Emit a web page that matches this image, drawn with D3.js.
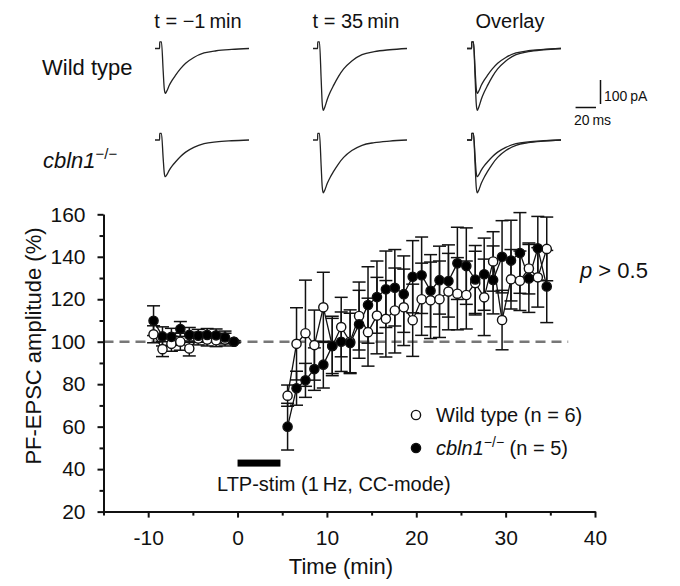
<!DOCTYPE html>
<head>
<meta charset="utf-8">
<style>
    body { margin: 0; background: #fff; }
    svg text { font-family: "Liberation Sans", Arial, sans-serif; fill: #111; }
</style>
<script src="https://d3js.org/d3.v7.min.js"></script>
</head>
<body>
<script>
// time of each averaged point (min), baseline then after LTP-stim
var times = [-9.4, -8.4, -7.4, -6.4, -5.4, -4.4, -3.4, -2.4, -1.4, -0.4,
    5.6, 6.6, 7.6, 8.6, 9.6, 10.6, 11.6, 12.6, 13.6, 14.6,
    15.6, 16.6, 17.6, 18.6, 19.6, 20.6, 21.6, 22.6, 23.6, 24.6,
    25.6, 26.6, 27.6, 28.6, 29.6, 30.6, 31.6, 32.6, 33.6, 34.6];

// wild type (n = 6)
var wtMean = [103.5, 96.5, 99, 100, 96.8, 101.5, 101, 100.7, 101, 100,
    74.6, 99, 104, 98.4, 116.2, 98, 106.9, 100, 112.1, 104.5,
    112.3, 110.8, 114.7, 116.2, 110.1, 120, 119.5, 120, 123.6, 122.6,
    122, 127.6, 120.9, 137.8, 110.2, 129.4, 128.7, 134.5, 130.3, 143.7];
var wtErr = [4, 3.5, 3.5, 4, 3.5, 3, 3, 3, 3, 0.5,
    5, 17, 25, 16.5, 16.5, 14, 14, 15, 16, 16,
    18, 18, 20, 18, 17, 17, 18, 18, 18, 17,
    16, 15, 18, 14, 14, 14, 14, 12, 14, 15];

// cbln1-/- (n = 5)
var koMean = [109.9, 102.5, 102.3, 106, 103.2, 102.8, 103.2, 103, 102, 100,
    60, 78.1, 81.8, 87.1, 89.2, 98, 100, 99.4, 108.2, 117.3,
    121, 124.7, 125.4, 122.4, 130.6, 131.3, 124, 129, 128.6, 136.9,
    135.6, 129.3, 131.8, 129.1, 140, 138.2, 141.8, 129.8, 144, 126];
var koErr = [7, 4.5, 4, 3.5, 3.5, 3, 3, 3, 3, 0.5,
    11, 8, 8, 10, 11, 13, 14, 14, 16, 18,
    17, 18, 18, 18, 17, 18, 17, 16, 17, 17,
    18, 16, 17, 16, 17, 19, 19, 16, 15, 17];

var xTicks = [-10, 0, 10, 20, 30, 40];
var xMinor = [-15, -5, 5, 15, 25, 35];
var yTicks = [20, 40, 60, 80, 100, 120, 140, 160];
var yMinor = [30, 50, 70, 90, 110, 130, 150];
var stim = [0, 4.8];

// example EPSC traces: sample times (ms), stimulus artifact (pA), normalised EPSC shape
var traceMs = [0, 4.5, 4.6, 6.3, 8, 9, 10, 11.5, 14, 17, 20, 25, 30, 38, 48, 60, 75, 92];
var traceArtifact = [0, 0, 28, 28, 0, 0, 0, 0, 0, 0, 0, 0, 0, 0, 0, 0, 0, 0];
var traceShape = [0, 0, 0, 0, 0.5, 0.88, 1, 0.95, 0.82, 0.7, 0.6, 0.45, 0.33, 0.2, 0.1, 0.05, 0.02, 0];
var rowNames = ["Wild type", "cbln1"];
var colNames = ["t = \u22121\u2009min", "t = 35\u2009min", "Overlay"];
var peakAmp = [[187, 258], [153, 220]];   // pA, before / after

var svg = d3.select("body").append("svg")
    .attr("width", 680)
    .attr("height", 586);

// ---------- traces ----------
var colX = [155, 313, 467];
var rowY = [48.5, 140];
var tx = d3.scaleLinear().domain([0, 92]).range([0, 94]);
var ty = d3.scaleLinear().domain([-100, 0]).range([24, 0]);
var traceLine = d3.line()
    .x(function(d) { return tx(d[0]); })
    .y(function(d) { return ty(d[1]); })
    .curve(d3.curveMonotoneX);

function traceData(amp) {
    return traceMs.map(function(t, i) { return [t, traceArtifact[i] - amp * traceShape[i]]; });
}

colNames.forEach(function(c, j) {
    svg.append("text")
        .attr("x", colX[j] + 43)
        .attr("y", 28)
        .attr("text-anchor", "middle")
        .attr("font-size", 20)
        .text(c);
});

rowNames.forEach(function(r, i) {
    var amps = [[peakAmp[i][0]], [peakAmp[i][1]], peakAmp[i]];
    amps.forEach(function(a, j) {
        var g = svg.append("g").attr("transform", "translate(" + colX[j] + "," + rowY[i] + ")");
        a.forEach(function(amp) {
            g.append("path")
                .attr("d", traceLine(traceData(amp)))
                .attr("fill", "none")
                .attr("stroke", "#222")
                .attr("stroke-width", 1.3);
        });
    });
});

svg.append("text").attr("x", 42).attr("y", 75).attr("font-size", 22).text("Wild type");
var koLabel = svg.append("text").attr("x", 43).attr("y", 168).attr("font-size", 22);
koLabel.append("tspan").attr("font-style", "italic").text("cbln1");
koLabel.append("tspan").attr("font-size", 15).attr("dy", -9).text("\u2212/\u2212");

// scale bar
var sbX = 596, sbY = 104;
svg.append("path")
    .attr("d", "M" + (sbX + 4.5) + "," + (sbY - ty(-100)) + "V" + sbY)
    .attr("stroke", "#111").attr("stroke-width", 1.5).attr("fill", "none");
svg.append("path")
    .attr("d", "M" + (sbX - tx(20)) + "," + (sbY + 3.5) + "H" + sbX)
    .attr("stroke", "#111").attr("stroke-width", 1.5).attr("fill", "none");
svg.append("text").attr("x", 604).attr("y", 101).attr("font-size", 14).text("100\u2009pA");
svg.append("text").attr("x", 574).attr("y", 125).attr("font-size", 14).text("20\u2009ms");

// ---------- time course ----------
var x = d3.scaleLinear().domain([-15, 40]).range([103.5, 595]);
var y = d3.scaleLinear().domain([20, 160]).range([511.6, 214.3]);

// dashed 100 % line
svg.append("line")
    .attr("x1", x(-15)).attr("x2", x(37))
    .attr("y1", y(100)).attr("y2", y(100))
    .attr("stroke", "#777")
    .attr("stroke-width", 2.5)
    .attr("stroke-dasharray", "10,6");

function styleAxis(g) {
    g.attr("font-size", 21).attr("font-family", "'Liberation Sans', Arial, sans-serif");
    g.selectAll("path, line").attr("stroke", "#111").attr("stroke-width", 2);
    g.selectAll("text").attr("fill", "#111");
}

svg.append("g")
    .attr("transform", "translate(0," + y(20) + ")")
    .call(d3.axisBottom(x).tickValues(xMinor).tickSize(4).tickFormat("").tickSizeOuter(0))
    .call(styleAxis);
svg.append("g")
    .attr("transform", "translate(0," + y(20) + ")")
    .call(d3.axisBottom(x).tickValues(xTicks).tickSize(6).tickPadding(12).tickSizeOuter(0)
        .tickFormat(function(d) { return String(d); }))
    .call(styleAxis);
svg.append("g")
    .attr("transform", "translate(" + x(-15) + ",0)")
    .call(d3.axisLeft(y).tickValues(yMinor).tickSize(4).tickFormat("").tickSizeOuter(0))
    .call(styleAxis);
svg.append("g")
    .attr("transform", "translate(" + x(-15) + ",0)")
    .call(d3.axisLeft(y).tickValues(yTicks).tickSize(6).tickPadding(12).tickSizeOuter(0))
    .call(styleAxis);

svg.append("text")
    .attr("transform", "translate(41," + 346 + ") rotate(-90)")
    .attr("text-anchor", "middle")
    .attr("font-size", 22)
    .text("PF-EPSC amplitude (%)");
svg.append("text")
    .attr("x", 341).attr("y", 574)
    .attr("text-anchor", "middle")
    .attr("font-size", 22)
    .text("Time (min)");

// LTP stimulation bar
svg.append("rect")
    .attr("x", x(stim[0]))
    .attr("width", x(stim[1]) - x(stim[0]))
    .attr("y", y(44.5))
    .attr("height", y(41.2) - y(44.5))
    .attr("fill", "#000");
svg.append("text").attr("x", 217).attr("y", 491).attr("font-size", 20)
    .text("LTP-stim (1\u2009Hz, CC-mode)");

var series = [
    {mean: wtMean, err: wtErr, fill: "#fff"},
    {mean: koMean, err: koErr, fill: "#000"}
];

function pts(s) {
    return times.map(function(t, i) { return {t: t, m: s.mean[i], e: s.err[i]}; });
}

// error bars
series.slice().reverse().forEach(function(s) {
    var g = svg.append("g").attr("stroke", "#111").attr("stroke-width", 1.5);
    pts(s).forEach(function(d) {
        var cx = x(d.t);
        g.append("line").attr("x1", cx).attr("x2", cx).attr("y1", y(d.m - d.e)).attr("y2", y(d.m + d.e));
        [d.m - d.e, d.m + d.e].forEach(function(v) {
            g.append("line").attr("x1", cx - 6.5).attr("x2", cx + 6.5).attr("y1", y(v)).attr("y2", y(v));
        });
    });
});

// connecting lines, baseline and post-stim separately
var line = d3.line().x(function(d) { return x(d.t); }).y(function(d) { return y(d.m); });
series.forEach(function(s) {
    var p = pts(s);
    [p.filter(function(d) { return d.t < 0; }), p.filter(function(d) { return d.t > 0; })].forEach(function(seg) {
        svg.append("path")
            .attr("d", line(seg))
            .attr("fill", "none")
            .attr("stroke", "#111")
            .attr("stroke-width", 1.3);
    });
});

series.forEach(function(s) {
    svg.append("g").selectAll("circle")
        .data(pts(s))
        .enter().append("circle")
        .attr("cx", function(d) { return x(d.t); })
        .attr("cy", function(d) { return y(d.m); })
        .attr("r", 4.6)
        .attr("fill", s.fill)
        .attr("stroke", "#111")
        .attr("stroke-width", 1.4);
});

// legend
svg.append("circle").attr("cx", 416).attr("cy", 415).attr("r", 4.6)
    .attr("fill", "#fff").attr("stroke", "#111").attr("stroke-width", 1.4);
svg.append("circle").attr("cx", 416).attr("cy", 448).attr("r", 4.6)
    .attr("fill", "#000").attr("stroke", "#111").attr("stroke-width", 1.4);
svg.append("text").attr("x", 436).attr("y", 422).attr("font-size", 20).text("Wild type (n = 6)");
var leg2 = svg.append("text").attr("x", 436).attr("y", 455).attr("font-size", 20);
leg2.append("tspan").attr("font-style", "italic").text("cbln1");
leg2.append("tspan").attr("font-size", 14).attr("dy", -8).text("\u2212/\u2212");
leg2.append("tspan").attr("dy", 8).text(" (n = 5)");

var pText = svg.append("text").attr("x", 580).attr("y", 278).attr("font-size", 22);
pText.append("tspan").attr("font-style", "italic").text("p");
pText.append("tspan").text(" > 0.5");
</script>
</body>
